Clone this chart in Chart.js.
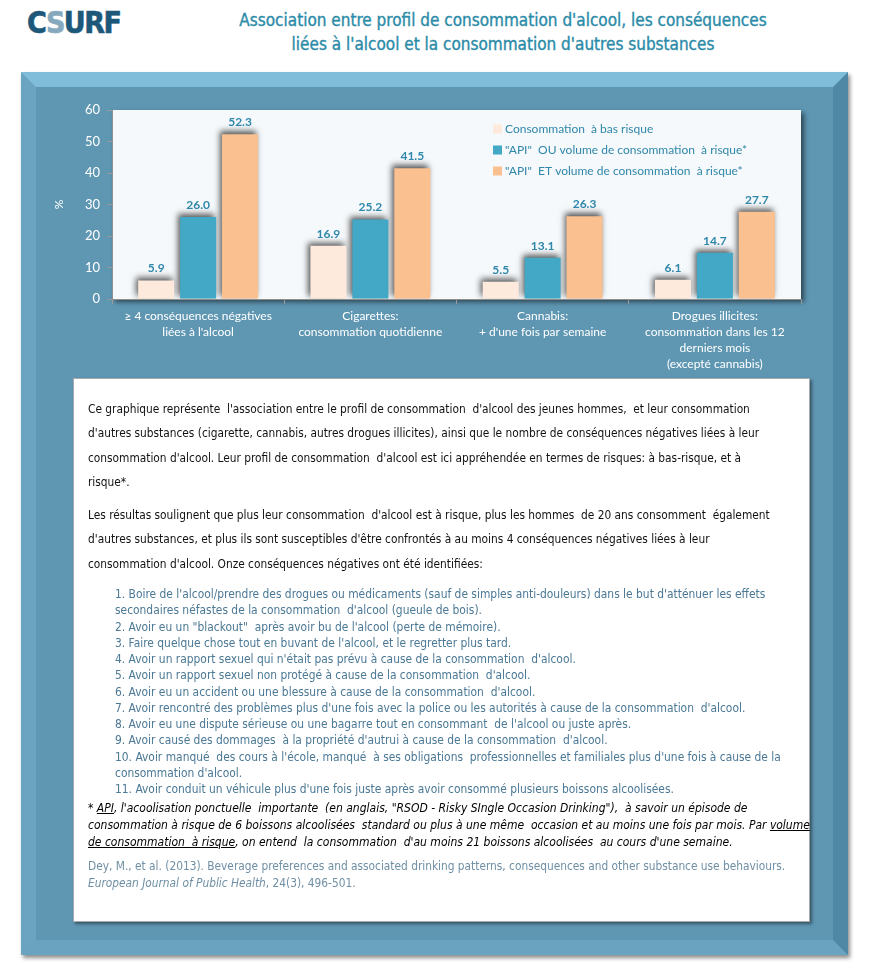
<!DOCTYPE html>
<html lang="fr">
<head>
<meta charset="utf-8">
<title>Association entre profil de consommation d'alcool</title>
<script src="https://cdn.jsdelivr.net/npm/chart.js@4.4.1/dist/chart.umd.min.js"></script>
<style>
  body { margin: 0; background: #fff; width: 873px; height: 973px; position: relative; overflow: hidden; }
  #logo { position: absolute; left: 27px; top: 5px; font: bold 30px "DejaVu Sans Condensed", sans-serif; color: #1d587a; letter-spacing: -1.5px; -webkit-text-stroke: 0.6px #1d587a; }
  #logo span { color: #86a9bd; -webkit-text-stroke: 0.6px #86a9bd; }
  #titre { position: absolute; left: 140px; width: 726px; top: 8px; text-align: center; color: #2b8ba8; font: 17px/24px "DejaVu Sans Condensed", sans-serif; -webkit-text-stroke: 0.35px #2b8ba8; }
  #cadre { position: absolute; left: 21px; top: 72px; width: 827px; height: 883px; box-sizing: border-box; background: #5f97b3;
           border-style: solid; border-width: 15px; border-color: #80bdda #4f88a4 #6aa3bf #6aa4c0; box-shadow: 2px 3px 4px rgba(0,0,0,0.45); }
  #wrap { position: absolute; left: 30px; top: 80px; width: 815px; height: 298px; }
  #texte { position: absolute; left: 73px; top: 378px; width: 737px; height: 544px; box-sizing: border-box; background: #fff;
           border: 1px solid #a9a9a9; box-shadow: 2px 2px 3px rgba(0,0,0,0.45);
           font-family: "DejaVu Sans Condensed", sans-serif; color: #111; white-space: nowrap; }
  .p { position: absolute; left: 14px; line-height: 24.3px; font-size: 11.8px; }
  .l { position: absolute; left: 41px; line-height: 16.25px; font-size: 11.9px; color: #4b7895; }
  .f { position: absolute; left: 14px; line-height: 16.8px; font-size: 12px; font-style: italic; color: #000; }
  .c { position: absolute; left: 14px; line-height: 16.8px; font-size: 11.8px; color: #6f8fa5; }
</style>
</head>
<body>
<div id="logo">C<span>S</span>URF</div>
<div id="titre">Association entre profil de consommation d'alcool, les conséquences<br>liées à l'alcool et la consommation d'autres substances</div>
<div id="cadre"></div>
<div id="wrap"><canvas id="myChart" width="815" height="298"></canvas></div>
<div id="texte">
  <div class="p" style="top:18px">Ce graphique représente&nbsp; l'association entre le profil de consommation&nbsp; d'alcool des jeunes hommes,&nbsp; et leur consommation<br>d'autres substances (cigarette, cannabis, autres drogues illicites), ainsi que le nombre de conséquences négatives liées à leur<br>consommation d'alcool. Leur profil de consommation&nbsp; d'alcool est ici appréhendée en termes de risques: à bas-risque, et à<br>risque*.</div>
  <div class="p" style="top:124px">Les résultas soulignent que plus leur consommation&nbsp; d'alcool est à risque, plus les hommes&nbsp; de 20 ans consomment&nbsp; également<br>d'autres substances, et plus ils sont susceptibles d'être confrontés à au moins 4 conséquences négatives liées à leur<br>consommation d'alcool. Onze conséquences négatives ont été identifiées:</div>
  <div class="l" style="top:207px">1. Boire de l'alcool/prendre des drogues ou médicaments (sauf de simples anti-douleurs) dans le but d'atténuer les effets<br>secondaires néfastes de la consommation&nbsp; d'alcool (gueule de bois).<br>2. Avoir eu un "blackout"&nbsp; après avoir bu de l'alcool (perte de mémoire).<br>3. Faire quelque chose tout en buvant de l'alcool, et le regretter plus tard.<br>4. Avoir un rapport sexuel qui n'était pas prévu à cause de la consommation&nbsp; d'alcool.<br>5. Avoir un rapport sexuel non protégé à cause de la consommation&nbsp; d'alcool.<br>6. Avoir eu un accident ou une blessure à cause de la consommation&nbsp; d'alcool.<br>7. Avoir rencontré des problèmes plus d'une fois avec la police ou les autorités à cause de la consommation&nbsp; d'alcool.<br>8. Avoir eu une dispute sérieuse ou une bagarre tout en consommant&nbsp; de l'alcool ou juste après.<br>9. Avoir causé des dommages&nbsp; à la propriété d'autrui à cause de la consommation&nbsp; d'alcool.<br>10. Avoir manqué&nbsp; des cours à l'école, manqué&nbsp; à ses obligations&nbsp; professionnelles et familiales plus d'une fois à cause de la<br>consommation d'alcool.<br>11. Avoir conduit un véhicule plus d'une fois juste après avoir consommé plusieurs boissons alcoolisées.</div>
  <div class="f" style="top:421px">* <u>API</u>, l'acoolisation ponctuelle&nbsp; importante&nbsp; (en anglais, "RSOD - Risky SIngle Occasion Drinking"),&nbsp; à savoir un épisode de<br>consommation à risque de 6 boissons alcoolisées&nbsp; standard ou plus à une même&nbsp; occasion et au moins une fois par mois. Par <u>volume</u><br><u>de consommation&nbsp; à risque</u>, on entend&nbsp; la consommation&nbsp; d'au moins 21 boissons alcoolisées&nbsp; au cours d'une semaine.</div>
  <div class="c" style="top:479px">Dey, M., et al. (2013). Beverage preferences and associated drinking patterns, consequences and other substance use behaviours.<br><i>European Journal of Public Health</i>, 24(3), 496-501.</div>
</div>
<script>
// categories et valeurs (en %)
const categories = [
  ['≥ 4 conséquences négatives', 'liées à l\'alcool'],
  ['Cigarettes:', 'consommation quotidienne'],
  ['Cannabis:', '+ d\'une fois par semaine'],
  ['Drogues illicites:', 'consommation dans les 12', 'derniers mois', '(excepté cannabis)']
];
const seriesNames = [
  'Consommation  à bas risque',
  '"API"  OU volume de consommation  à risque*',
  '"API"  ET volume de consommation  à risque*'
];
const basRisque = [5.9, 16.9, 5.5, 6.1];
const apiOu = [26.0, 25.2, 13.1, 14.7];
const apiEt = [52.3, 41.5, 26.3, 27.7];
const yTicks = [0, 10, 20, 30, 40, 50, 60];

const teal = '#2f87aa';

// fond de la zone de tracé avec ombre
const fondPlugin = {
  id: 'fond',
  beforeDraw(chart) {
    const a = chart.chartArea, ctx = chart.ctx;
    ctx.save();
    ctx.shadowColor = 'rgba(0,0,0,0.55)';
    ctx.shadowBlur = 5;
    ctx.shadowOffsetX = 3;
    ctx.shadowOffsetY = 3;
    ctx.fillStyle = '#f6f9fb';
    ctx.fillRect(a.left, a.top, a.right - a.left, a.bottom - a.top);
    ctx.restore();
  }
};

// ombre des barres + étiquettes de valeurs
const barresPlugin = {
  id: 'barres',
  beforeDatasetsDraw(chart) {
    const ctx = chart.ctx;
    ctx.save();
    ctx.shadowColor = 'rgba(0,0,0,0.65)';
    ctx.shadowBlur = 6;
    ctx.shadowOffsetX = -2;
    ctx.shadowOffsetY = -3;
  },
  afterDatasetsDraw(chart) {
    const ctx = chart.ctx;
    ctx.restore();
    ctx.save();
    ctx.font = 'bold 12px Lato, "Open Sans", sans-serif';
    ctx.fillStyle = teal;
    ctx.textAlign = 'center';
    ctx.textBaseline = 'middle';
    chart.data.datasets.forEach((ds, i) => {
      chart.getDatasetMeta(i).data.forEach((bar, j) => {
        ctx.fillText(ds.data[j].toFixed(1), bar.x, bar.y - 12);
      });
    });
    ctx.restore();
  }
};

// légende à l'intérieur de la zone de tracé
const legendePlugin = {
  id: 'legende',
  afterDraw(chart) {
    const ctx = chart.ctx, a = chart.chartArea;
    const x = a.left + 381, y0 = a.top + 19;
    ctx.save();
    ctx.font = '12px Lato, "Open Sans", sans-serif';
    ctx.textBaseline = 'middle';
    chart.data.datasets.forEach((ds, i) => {
      const y = y0 + i * 21;
      ctx.fillStyle = ds.backgroundColor;
      ctx.fillRect(x, y - 4.5, 9, 9);
      ctx.fillStyle = teal;
      ctx.fillText(ds.label, x + 12, y);
    });
    ctx.restore();
  }
};

const data = {
  labels: categories,
  datasets: [
    { label: seriesNames[0], data: basRisque, backgroundColor: '#fdeadc' },
    { label: seriesNames[1], data: apiOu, backgroundColor: '#43a8c6' },
    { label: seriesNames[2], data: apiEt, backgroundColor: '#fac08f' }
  ]
};

const config = {
  type: 'bar',
  data: data,
  options: {
    responsive: false,
    animation: false,
    categoryPercentage: 0.73,
    barPercentage: 0.86,
    layout: { padding: { left: 0, right: 44, top: 30, bottom: 0 } },
    plugins: { legend: { display: false }, tooltip: { enabled: false } },
    scales: {
      x: {
        grid: { drawOnChartArea: false, tickLength: 5, color: '#9a9a9a' },
        border: { color: '#8f8f8f' },
        ticks: { color: '#ffffff', padding: 4, maxRotation: 0, autoSkip: false,
                 font: { family: 'Lato, "Open Sans", sans-serif', size: 12, lineHeight: 1.33 } },
        afterFit(scale) { scale.height = 79; }
      },
      y: {
        min: 0,
        max: 60,
        afterBuildTicks(scale) { scale.ticks = yTicks.map(v => ({ value: v })); },
        grid: { drawOnChartArea: false, tickLength: 5, color: '#9a9a9a' },
        border: { color: '#8f8f8f' },
        ticks: { color: '#ffffff', padding: 7, font: { family: 'Lato, "Open Sans", sans-serif', size: 13 } },
        title: { display: true, text: '%', color: '#ffffff', padding: { top: 22 },
                 font: { family: 'Lato, "Open Sans", sans-serif', size: 12 } },
        afterFit(scale) { scale.width = 82; }
      }
    }
  },
  plugins: [fondPlugin, barresPlugin, legendePlugin]
};

const myChart = new Chart(document.getElementById('myChart'), config);
</script>
</body>
</html>
